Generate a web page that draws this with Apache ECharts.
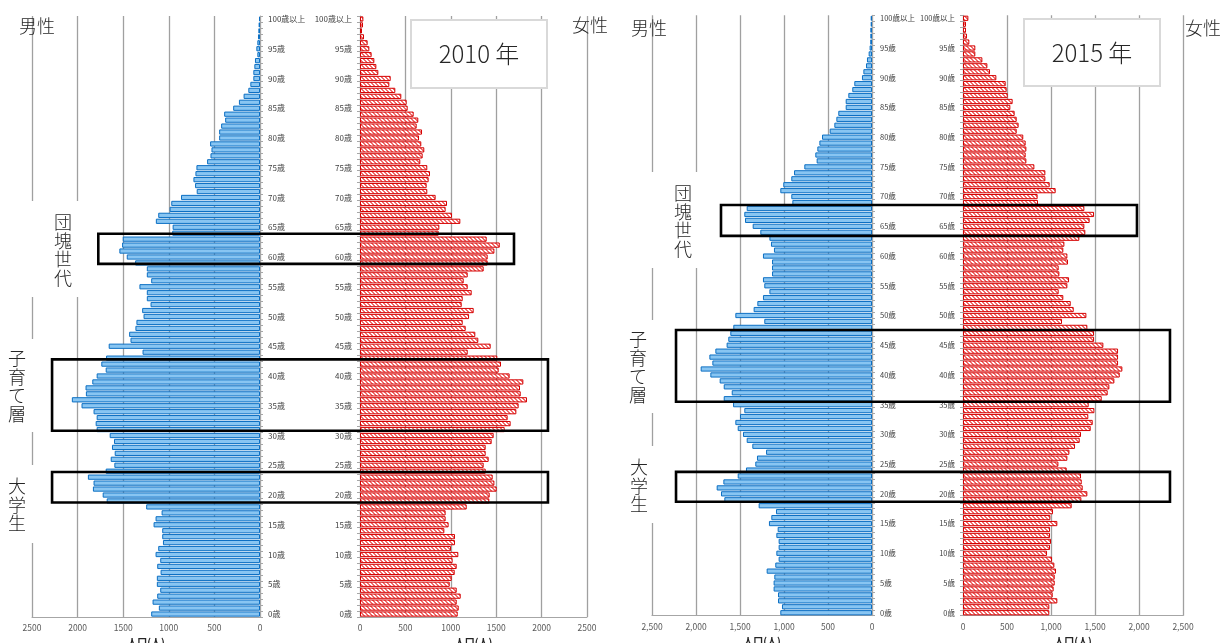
<!DOCTYPE html>
<html>
<head>
<meta charset="utf-8">
<script src="https://cdn.jsdelivr.net/npm/echarts@6/dist/echarts.min.js"></script>
<style>
html, body { margin: 0; padding: 0; background: #fff; }
#chart { width: 1228px; height: 643px; }
</style>
</head>
<body>
<div id="chart"></div>
<script>
// ---- data: population by single year of age (index 0 = 0歳 ... 100 = 100歳以上) ----
const ageLabels = [];
for (let a = 0; a < 100; a++) ageLabels.push(a + '歳');
ageLabels.push('100歳以上');

const male2010 = [
  1193, 1109, 1178, 1127, 1094, 1131, 1131, 1090, 1127, 1094,
  1145, 1116, 1064, 1072, 1072, 1167, 1145, 1079, 1248, 1681,
  1725, 1832, 1825, 1887, 1692, 1597, 1637, 1593, 1623, 1601,
  1648, 1791, 1802, 1791, 1825, 1957, 2063, 1909, 1913, 1839,
  1791, 1692, 1740, 1688, 1288, 1659, 1420, 1435, 1366, 1355,
  1277, 1292, 1200, 1241, 1241, 1322, 1193, 1241, 1241, 1369,
  1461, 1542, 1512, 1505, 962, 958, 1142, 1116, 991, 973,
  866, 694, 712, 730, 708, 697, 580, 543, 532, 547,
  448, 448, 426, 382, 393, 294, 231, 180, 128, 106,
  73, 73, 62, 55, 29, 40, 29, 22, 18, 15,
  11
];
const female2010 = [
  1076, 1087, 1065, 1109, 1065, 988, 1010, 1043, 1065, 1020,
  1083, 1002, 1046, 1046, 929, 976, 943, 943, 1175, 1424,
  1428, 1505, 1480, 1461, 1384, 1362, 1417, 1384, 1384, 1450,
  1472, 1593, 1659, 1626, 1722, 1747, 1839, 1770, 1762, 1799,
  1648, 1527, 1553, 1512, 1186, 1439, 1303, 1270, 1164, 1131,
  1201, 1252, 1120, 1131, 1230, 1186, 1142, 1186, 1362, 1406,
  1406, 1480, 1539, 1395, 866, 874, 1105, 1013, 943, 958,
  833, 741, 734, 756, 771, 741, 664, 690, 708, 675,
  650, 683, 624, 642, 591, 525, 514, 455, 389, 323,
  338, 202, 180, 158, 128, 103, 84, 44, 22, 33,
  37
];
const male2015 = [
  1042, 1023, 1068, 1068, 1118, 1118, 1110, 1197, 1099, 1061,
  1087, 1061, 1061, 1087, 1072, 1171, 1144, 1091, 1288, 1678,
  1716, 1765, 1689, 1526, 1432, 1326, 1307, 1204, 1360, 1424,
  1466, 1526, 1553, 1500, 1451, 1579, 1685, 1594, 1685, 1731,
  1837, 1947, 1814, 1848, 1780, 1652, 1633, 1610, 1576, 1224,
  1553, 1345, 1303, 1239, 1166, 1224, 1239, 1136, 1136, 1136,
  1239, 1114, 1148, 1166, 1269, 1356, 1443, 1451, 1424, 905,
  917, 1042, 1008, 917, 886, 769, 629, 644, 621, 598,
  568, 481, 428, 405, 383, 299, 299, 269, 224, 201,
  114, 98, 68, 57, 38, 27, 20, 19, 19, 15,
  15
];
const female2015 = [
  981, 981, 1072, 1019, 1030, 1042, 1042, 1057, 1038, 1012,
  955, 989, 1000, 989, 989, 1072, 993, 1023, 1235, 1345,
  1413, 1360, 1349, 1341, 1178, 1084, 1186, 1209, 1273, 1326,
  1341, 1451, 1474, 1424, 1493, 1428, 1576, 1644, 1663, 1720,
  1781, 1811, 1762, 1762, 1762, 1595, 1489, 1489, 1413, 1125,
  1402, 1258, 1224, 1140, 1087, 1186, 1205, 1095, 1087, 1193,
  1186, 1140, 1152, 1322, 1390, 1379, 1439, 1489, 1379, 852,
  848, 1053, 985, 936, 936, 811, 720, 712, 720, 712,
  685, 610, 632, 610, 587, 538, 564, 508, 496, 485,
  379, 307, 277, 220, 140, 140, 72, 45, 34, 34,
  61
];

const populationTicks = [0, 500, 1000, 1500, 2000, 2500];
const axisName = '人口(人)';
const yearTitles = ['2010 年', '2015 年'];
const sexTitles = ['男性', '女性'];

// highlighted generations: band range in age units, reach on each side (persons)
const groups = [
  { panel: 0, label: '団塊世代', ages: [59.35, 64.4], male: 1773, female: 1696 },
  { panel: 0, label: '子育て層', ages: [31.3, 43.3], male: 2280, female: 2070 },
  { panel: 0, label: '大学生', ages: [19.25, 24.36], male: 2280, female: 2070 },
  { panel: 1, label: '団塊世代', ages: [63.9, 69.1], male: 1716, female: 1977 },
  { panel: 1, label: '子育て層', ages: [36.0, 48.07], male: 2227, female: 2352 },
  { panel: 1, label: '大学生', ages: [19.18, 24.2], male: 2227, female: 2352 }
];

// ---- layout ----
const FONT = '"Noto Sans CJK JP", "Noto Sans", sans-serif';
const grids = [
  { left: 32, top: 16, width: 228, height: 601 },
  { left: 360, top: 16, width: 227, height: 601 },
  { left: 652, top: 15.3, width: 220, height: 600.4 },
  { left: 963, top: 15.3, width: 220, height: 600.4 }
].map(g => Object.assign({ containLabel: false, outerBoundsMode: 'none' }, g));
// vertical captions (centre) and the white plates that hide gridlines behind them
const captionLayout = [
  { cx: 63, cy: 250, plate: [25, 201, 72, 96] },
  { cx: 17, cy: 386, plate: [0, 339, 50, 93] },
  { cx: 17, cy: 505, plate: [0, 465, 50, 78] },
  { cx: 683, cy: 221, plate: [640, 172, 76, 96] },
  { cx: 638, cy: 367, plate: [615, 320, 57, 93] },
  { cx: 639, cy: 486, plate: [615, 446, 57, 77] }
];
const yearBoxes = [
  { x: 411, y: 20, w: 136, h: 68 },
  { x: 1024, y: 19, w: 136, h: 67 }
];
const sexTitlePos = [[37, 26], [590, 25], [649, 28], [1203, 28]];

// hatch fill for the female bars
function hatch() {
  const c = document.createElement('canvas');
  c.width = 4; c.height = 4;
  const g = c.getContext('2d');
  g.fillStyle = '#ffffff';
  g.fillRect(0, 0, 4, 4);
  g.fillStyle = '#f26a6a';
  for (let i = 0; i < 4; i++) {
    g.fillRect(i, i, 1, 1);
    g.fillRect((i + 1) % 4, i, 1, 1);
  }
  return { image: c, repeat: 'repeat' };
}
const femaleFill = hatch();

const withComma = v => String(v).replace(/\B(?=(\d{3})+(?!\d))/g, ',');

function xAxisFor(i) {
  const male = i % 2 === 0;
  const comma = i >= 2;
  return {
    type: 'value', gridIndex: i, min: 0, max: 2500, interval: 500,
    inverse: male,
    name: axisName, nameLocation: 'middle', nameGap: 20,
    nameTextStyle: { fontFamily: FONT, fontSize: 10, fontWeight: 'bold', color: '#262626' },
    axisLine: { show: true, lineStyle: { color: '#a6a6a6', width: 1 } },
    axisTick: { show: false },
    axisLabel: {
      fontFamily: FONT, fontSize: 8.5, color: '#595959', margin: 7,
      formatter: v => populationTicks.includes(v) ? (comma ? withComma(v) : String(v)) : ''
    },
    splitLine: { show: true, lineStyle: { color: '#a0a0a0', width: 1.3 } }
  };
}
function yAxisFor(i) {
  const male = i % 2 === 0;
  return {
    type: 'category', gridIndex: i, data: ageLabels,
    position: male ? 'right' : 'left',
    axisLine: { show: true, lineStyle: { color: '#a6a6a6', width: 1 } },
    axisTick: { show: true, interval: 0, length: 3, lineStyle: { color: '#a6a6a6' } },
    axisLabel: {
      interval: 4, fontFamily: FONT, fontSize: i >= 2 ? 7.5 : 8, color: '#404040', margin: 8
    },
    splitLine: { show: false }
  };
}
const seriesData = [male2010, female2010, male2015, female2015];
const series = seriesData.map((d, i) => ({
  type: 'bar', xAxisIndex: i, yAxisIndex: i, data: d,
  barCategoryGap: '12%',
  silent: true,
  itemStyle: i % 2 === 0
    ? { color: '#88c5f2', borderColor: '#0c6fc3', borderWidth: 1 }
    : { color: femaleFill, borderColor: '#d40000', borderWidth: 1 }
}));

const chart = echarts.init(document.getElementById('chart'), null, { renderer: 'canvas' });
chart.setOption({
  animation: false,
  backgroundColor: '#ffffff',
  grid: grids,
  xAxis: [0, 1, 2, 3].map(xAxisFor),
  yAxis: [0, 1, 2, 3].map(yAxisFor),
  series: series
});

// ---- overlays: year boxes, sex titles, generation frames and captions ----
function bandY(axis, u) {
  const c0 = chart.convertToPixel({ yAxisIndex: axis }, 0);
  const c1 = chart.convertToPixel({ yAxisIndex: axis }, 1);
  const band = c0 - c1;
  return c0 + band / 2 - u * band;
}
const gfx = [];
yearBoxes.forEach((b, k) => {
  gfx.push({
    type: 'rect', z: 20, shape: { x: b.x, y: b.y, width: b.w, height: b.h },
    style: { fill: '#ffffff', stroke: '#d9d9d9', lineWidth: 2 }
  });
  gfx.push({
    type: 'text', z: 21, x: b.x + b.w / 2, y: b.y + b.h / 2,
    style: { text: yearTitles[k], fontFamily: FONT, fontSize: 24, fontWeight: 300, fill: '#262626',
      align: 'center', verticalAlign: 'middle' }
  });
});
sexTitlePos.forEach((p, k) => {
  gfx.push({
    type: 'text', z: 21, x: p[0], y: p[1],
    style: { text: sexTitles[k % 2], fontFamily: FONT, fontSize: 18, fontWeight: 300, fill: '#262626',
      align: 'center', verticalAlign: 'middle' }
  });
});
groups.forEach((g, k) => {
  const mAxis = g.panel * 2, fAxis = g.panel * 2 + 1;
  const x0 = chart.convertToPixel({ xAxisIndex: mAxis }, g.male);
  const x1 = chart.convertToPixel({ xAxisIndex: fAxis }, g.female);
  const yTop = bandY(mAxis, g.ages[1]);
  const yBot = bandY(mAxis, g.ages[0]);
  gfx.push({
    type: 'rect', z: 30, shape: { x: x0, y: yTop, width: x1 - x0, height: yBot - yTop },
    style: { fill: null, stroke: '#000000', lineWidth: 2.6 }
  });
  const L = captionLayout[k];
  gfx.push({
    type: 'rect', z: 20, shape: { x: L.plate[0], y: L.plate[1], width: L.plate[2], height: L.plate[3] },
    style: { fill: '#ffffff', stroke: null }
  });
  gfx.push({
    type: 'text', z: 21, x: L.cx, y: L.cy,
    style: { text: g.label.split('').join('\n'), fontFamily: FONT, fontSize: 18, fontWeight: 300, lineHeight: 18.5,
      fill: '#262626', align: 'center', verticalAlign: 'middle' }
  });
});
chart.setOption({ graphic: { elements: gfx } });
</script>
</body>
</html>
